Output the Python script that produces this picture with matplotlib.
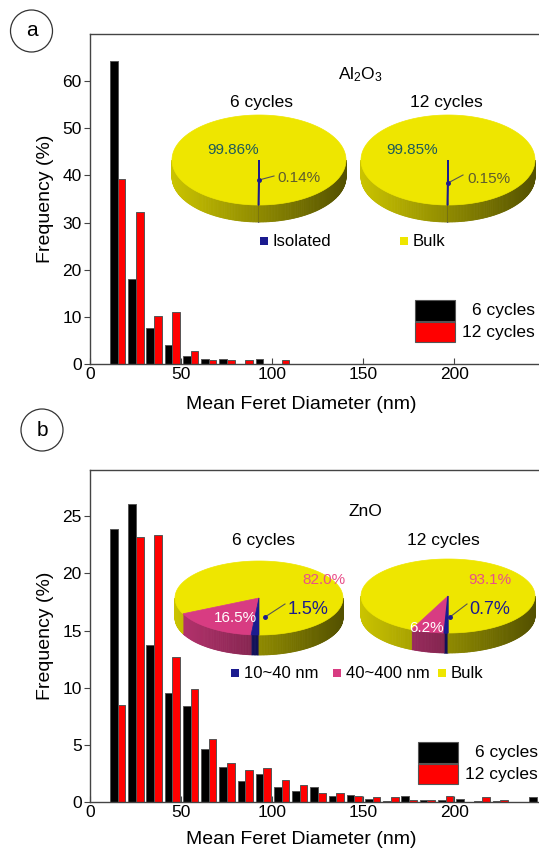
import numpy as np
import matplotlib
matplotlib.use('Agg')
import matplotlib.pyplot as plt
from matplotlib.patches import Polygon, Rectangle, Circle

plt.rcParams['font.family'] = ['Liberation Sans', 'DejaVu Sans']
plt.rcParams['mathtext.default'] = 'regular'

# ---- histogram data (bin start, nm) ----
bins_a = [10, 20, 30, 40, 50, 60, 70, 80, 90, 100]
al2o3_6 = [64.2, 18.0, 7.7, 4.0, 1.8, 1.0, 1.0, 0.0, 1.0, 0.0]
al2o3_12 = [39.2, 32.2, 10.1, 11.1, 2.8, 0.8, 0.8, 0.8, 0.0, 0.8]

bins_b = [10, 20, 30, 40, 50, 60, 70, 80, 90, 100, 110, 120, 130, 140, 150,
          160, 170, 180, 190, 200, 210, 220, 230, 240]
zno_6 = [23.9, 26.1, 13.7, 9.5, 8.4, 4.6, 3.06, 1.84, 2.46, 1.28, 0.92, 1.28,
         0.52, 0.62, 0.25, 0.06, 0.55, 0.15, 0.15, 0.23, 0.06, 0.1, 0.0, 0.41]
zno_12 = [8.45, 23.2, 23.4, 12.7, 9.9, 5.5, 3.4, 2.8, 2.96, 1.9, 1.45, 0.76,
          0.78, 0.5, 0.4, 0.41, 0.15, 0.15, 0.5, 0.0, 0.41, 0.15, 0.0, 0.0]

# ---- pie data ----
al_pie_labels = ['Isolated', 'Bulk']
al_pie_6 = [0.14, 99.86]
al_pie_12 = [0.15, 99.85]
zno_pie_labels = ['10~40 nm', '40~400 nm', 'Bulk']
zno_pie_6 = [1.5, 16.5, 82.0]
zno_pie_12 = [0.7, 6.2, 93.1]

NAVY = '#1B1B8F'
PINK = '#D83C82'
YEL = '#EEE600'

W, H = 539, 852
fig = plt.figure(figsize=(W / 100, H / 100), dpi=100)


def make_hist(rect, bins, s6, s12, ymax, yticks, ylab_y):
    ax = fig.add_axes(rect)
    x = np.array(bins)
    ax.bar(x + 1, s6, width=4.2, align='edge', color='black',
           edgecolor='#555555', linewidth=0.7)
    ax.bar(x + 5.2, s12, width=4.2, align='edge', color='#FF0000',
           edgecolor='#555555', linewidth=0.7)
    ax.set_xlim(0, 246.5)
    ax.set_ylim(0, ymax)
    ax.set_xticks([0, 50, 100, 150, 200])
    ax.set_yticks(yticks)
    ax.spines['right'].set_visible(False)
    for s in ['left', 'bottom', 'top']:
        ax.spines[s].set_color('#444444')
        ax.spines[s].set_linewidth(1.0)
    ax.tick_params(axis='x', direction='in', length=4, pad=2,
                   labelsize=12.5, color='#444444')
    ax.tick_params(axis='y', direction='out', length=4, pad=2,
                   labelsize=12.5, color='#444444')
    ax.set_xlabel('Mean Feret Diameter (nm)', fontsize=14)
    ax.set_ylabel('Frequency (%)', fontsize=14)
    ax.xaxis.label.set_va('center')
    ax.xaxis.set_label_coords((301 - 90) / 449, ylab_y)
    ax.yaxis.label.set_va('center')
    ax.yaxis.set_label_coords(-0.098, 0.5)
    return ax


ax1 = make_hist([90 / W, 1 - 364 / H, 449 / W, 330 / H], bins_a,
                al2o3_6, al2o3_12, 70, [0, 10, 20, 30, 40, 50, 60],
                (364 - 405) / 330)
ax2 = make_hist([90 / W, 1 - 802 / H, 449 / W, 332 / H], bins_b,
                zno_6, zno_12, 29.05, [0, 5, 10, 15, 20, 25],
                (802 - 840) / 332)

# overlay in pixel coordinates for insets
ov = fig.add_axes([0, 0, 1, 1])
ov.set_xlim(0, W)
ov.set_ylim(H, 0)
ov.axis('off')
ov.patch.set_visible(False)


def pt(cx, cy, a, b, th):
    r = np.radians(th)
    return cx + a * np.sin(r), cy - b * np.cos(r)


def pie3d(cx, cy, a, b, h, vals, cols, start=180):
    tot = float(sum(vals))
    t0 = start
    pieces = []
    for v, c in zip(vals, cols):
        t1 = t0 + 360 * v / tot
        pieces.append((t0, t1, c, v))
        t0 = t1
    base = {}
    for t0, t1, c, v in pieces:
        rgb = np.array(matplotlib.colors.to_rgb(c))
        for s, e in [(90, 270), (450, 630)]:
            lo, hi = max(t0, s), min(t1, e)
            if hi <= lo:
                continue
            n = max(2, int(hi - lo) + 1)
            th = np.linspace(lo, hi, n)
            for i in range(n - 1):
                xa, ya = pt(cx, cy, a, b, th[i])
                xb, yb = pt(cx, cy, a, b, th[i + 1])
                f = 0.6 - 0.25 * np.sin(np.radians((th[i] + th[i + 1]) / 2))
                col = np.clip(rgb * f, 0, 1)
                ov.add_patch(Polygon([(xa, ya), (xb, yb), (xb, yb + h), (xa, ya + h)],
                                     closed=True, facecolor=col, edgecolor=col,
                                     linewidth=0.6 if v > 1 else 1.0))
    for t0, t1, c, v in sorted(pieces, key=lambda p: -p[3]):
        n = max(2, int(t1 - t0) + 1)
        th = np.linspace(t0, t1, n)
        xs, ys = pt(cx, cy, a, b, th)
        poly = [(cx, cy)] + list(zip(xs, ys))
        ov.add_patch(Polygon(poly, closed=True, facecolor=c, edgecolor=c,
                             linewidth=0.5 if v > 1 else 1.0))


def leader(x0, y0, x1, y1):
    ov.plot([x0, x1], [y0, y1], color='#555555', lw=0.8)
    ov.plot([x0], [y0], marker='o', ms=2.5, color=NAVY)


# ---- Al2O3 insets ----
ov.text(360, 75, 'Al$_2$O$_3$', fontsize=12.5, ha='center', va='center')
ov.text(262, 103, '6 cycles', fontsize=12.5, ha='center', va='center')
ov.text(446, 103, '12 cycles', fontsize=12.5, ha='center', va='center')
pie3d(259, 160, 87, 45, 17, al_pie_6, [NAVY, YEL])
pie3d(448, 160, 87, 45, 17, al_pie_12, [NAVY, YEL])
ov.text(233, 150, '%.2f%%' % al_pie_6[1], fontsize=11, color='#1E5A5A',
        ha='center', va='center')
ov.text(412, 150, '%.2f%%' % al_pie_12[1], fontsize=11, color='#1E5A5A',
        ha='center', va='center')
leader(259, 180, 274, 176)
ov.text(277, 178, '%.2f%%' % al_pie_6[0], fontsize=11, color='#5E5C2E',
        ha='left', va='center')
leader(448, 183, 463, 175)
ov.text(467, 179, '%.2f%%' % al_pie_12[0], fontsize=11, color='#5E5C2E',
        ha='left', va='center')
for xm, lab, c in [(264, al_pie_labels[0], NAVY), (404, al_pie_labels[1], YEL)]:
    ov.add_patch(Rectangle((xm - 4, 237), 8, 8, facecolor=c, edgecolor='none'))
    ov.text(xm + 9, 241, lab, fontsize=12, ha='left', va='center')

# ---- ZnO insets ----
ov.text(365, 512, 'ZnO', fontsize=12.5, ha='center', va='center')
ov.text(263, 540, '6 cycles', fontsize=12.5, ha='center', va='center')
ov.text(443, 540, '12 cycles', fontsize=12.5, ha='center', va='center')
pie3d(259, 598, 84, 37, 20, zno_pie_6, [NAVY, PINK, YEL])
pie3d(448, 596, 87, 37, 20, zno_pie_12, [NAVY, PINK, YEL])
ov.text(302, 580, '%.1f%%' % zno_pie_6[2], fontsize=11, color='#E8508A',
        ha='left', va='center')
ov.text(468, 580, '%.1f%%' % zno_pie_12[2], fontsize=11, color='#E8508A',
        ha='left', va='center')
ov.text(235, 618, '%.1f%%' % zno_pie_6[1], fontsize=11, color='white',
        ha='center', va='center')
ov.text(427, 628, '%.1f%%' % zno_pie_12[1], fontsize=11, color='white',
        ha='center', va='center')
leader(265, 617, 285, 604)
ov.text(288, 609, '%.1f%%' % zno_pie_6[0], fontsize=13, color=NAVY,
        ha='left', va='center')
leader(450, 617, 467, 604)
ov.text(469, 609, '%.1f%%' % zno_pie_12[0], fontsize=13, color=NAVY,
        ha='left', va='center')
for xm, lab, c in [(235, zno_pie_labels[0], NAVY), (337, zno_pie_labels[1], PINK),
                   (442, zno_pie_labels[2], YEL)]:
    ov.add_patch(Rectangle((xm - 4, 669), 8, 8, facecolor=c, edgecolor='none'))
    ov.text(xm + 9, 673, lab, fontsize=12, ha='left', va='center')

# ---- bar legends ----
for x0, y0, xr in [(415, 300, 535), (418, 742, 538)]:
    ov.add_patch(Rectangle((x0, y0), 40, 20.5, facecolor='black',
                           edgecolor='#555555', lw=0.8))
    ov.add_patch(Rectangle((x0, y0 + 21.5), 40, 20.5, facecolor='#FF0000',
                           edgecolor='#555555', lw=0.8))
    ov.text(xr, y0 + 10.5, '6 cycles', fontsize=12.5, ha='right', va='center')
    ov.text(xr, y0 + 32, '12 cycles', fontsize=12.5, ha='right', va='center')

# ---- panel letters ----
for cx, cy, lab in [(31.5, 31, 'a'), (42, 430, 'b')]:
    ov.add_patch(Circle((cx, cy), 21, facecolor='none', edgecolor='#333333', lw=0.9))
    ov.text(cx, cy, lab, fontsize=15, ha='center', va='center')

fig.savefig('out.png', dpi=100)
